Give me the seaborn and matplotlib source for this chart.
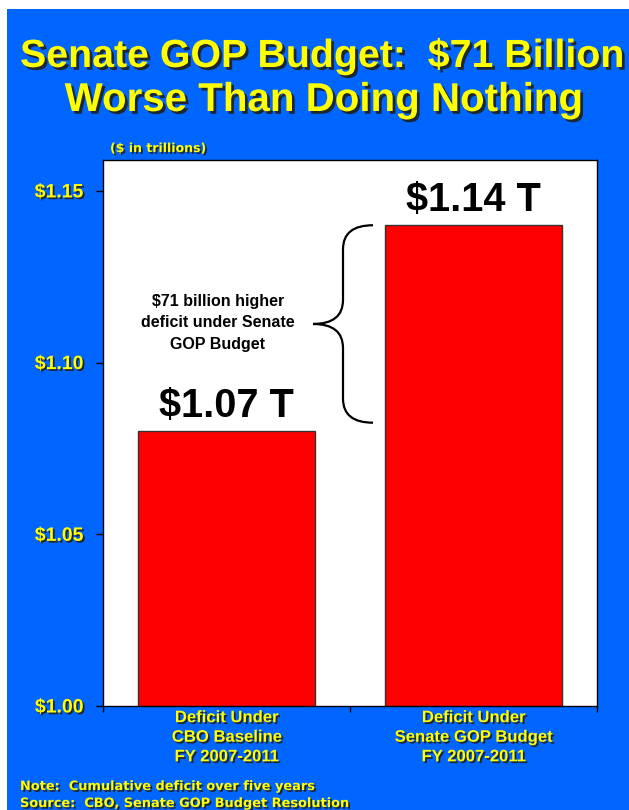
import matplotlib
matplotlib.use("Agg")
import matplotlib.pyplot as plt
import matplotlib.patheffects as pe
from matplotlib.patches import Rectangle, PathPatch
from matplotlib.path import Path
import matplotlib.transforms as mtransforms
import seaborn as sns
import pandas as pd

# ---- data ----
categories = ["Deficit Under\nCBO Baseline\nFY 2007-2011",
              "Deficit Under\nSenate GOP Budget\nFY 2007-2011"]
values = [1.08, 1.14]
value_labels = [r"\$1.07 T", r"\$1.14 T"]
yticks = [1.00, 1.05, 1.10, 1.15]
ytick_labels = [r"\$1.00", r"\$1.05", r"\$1.10", r"\$1.15"]
title_lines = ["Senate GOP Budget:  $71 Billion", "Worse Than Doing Nothing"]
unit_label = "($ in trillions)"
note_lines = ["Note:  Cumulative deficit over five years",
              "Source:  CBO, Senate GOP Budget Resolution"]
brace_text = "$71 billion higher\ndeficit under Senate\nGOP Budget"

BLUE = "#0066FF"
YEL = "#FFFF00"

sns.set_theme(style="white")
plt.rcParams["font.family"] = ["Liberation Sans", "DejaVu Sans"]

W, H = 629, 810
fig = plt.figure(figsize=(W / 100, H / 100), dpi=100, facecolor="white")
fig.add_artist(Rectangle((7 / W, 0), 1 - 7 / W, 1 - 9 / H, transform=fig.transFigure,
                         facecolor=BLUE, edgecolor="none", zorder=0))

ax = fig.add_axes([103 / W, 1 - 706 / H, (597 - 103) / W, (706 - 160) / H])
ax.set_facecolor("white")

df = pd.DataFrame({"cat": categories, "val": values})
sns.barplot(data=df, x="cat", y="val", color="#FF0000", saturation=1,
            edgecolor="#333333", linewidth=1, width=0.715, ax=ax)

ax.set_xlim(-0.5, 1.5)
ax.set_ylim(1.0, 1.159)
ax.set_xlabel("")
ax.set_ylabel("")

shadow = [pe.SimplePatchShadow(offset=(1.3, -1.3), shadow_rgbFace="#202020", alpha=0.9), pe.Normal()]

ax.set_yticks(yticks)
ax.set_yticklabels(ytick_labels)
ax.tick_params(axis="y", which="major", left=True, length=5, width=1, color="black",
               pad=9, labelsize=14, labelcolor=YEL)
for t in ax.get_yticklabels():
    t.set_fontweight("bold")
    t.set_path_effects(shadow)

ax.set_xticks([0, 1])
ax.set_xticklabels(categories)
ax.set_xticks([-0.5, 0.5, 1.5], minor=True)
ax.tick_params(axis="x", which="major", length=0, pad=3, labelsize=12, labelcolor=YEL)
ax.tick_params(axis="x", which="minor", bottom=True, length=4.5, width=1, color="black")
for t in ax.get_xticklabels():
    t.set_fontweight("bold")
    t.set_linespacing(1.38)
    t.set_path_effects(shadow)

for s in ax.spines.values():
    s.set_visible(True)
    s.set_color("black")
    s.set_linewidth(1)

# value labels
for i, (v, lab) in enumerate(zip(values, value_labels)):
    ax.annotate(lab, xy=(i, v), xytext=(0, 10), textcoords="offset points",
                ha="center", va="baseline", fontsize=28.5, fontweight="bold", color="black")

# brace
trans = mtransforms.blended_transform_factory(ax.transAxes, ax.transData)
y_top = values[1]
y_bot = values[0] + 0.0025
y_mid = (y_top + y_bot) / 2
r = 0.007
xs_tip = (373 - 103) / 494
xs_v = (343 - 103) / 494
xs_pt = (313 - 103) / 494
verts = [(xs_tip, y_top), (xs_v, y_top), (xs_v, y_top - r),
         (xs_v, y_mid + r),
         (xs_v, y_mid), (xs_pt, y_mid),
         (xs_v, y_mid), (xs_v, y_mid - r),
         (xs_v, y_bot + r),
         (xs_v, y_bot), (xs_tip, y_bot)]
codes = [Path.MOVETO, Path.CURVE3, Path.CURVE3,
         Path.LINETO,
         Path.CURVE3, Path.CURVE3,
         Path.CURVE3, Path.CURVE3,
         Path.LINETO,
         Path.CURVE3, Path.CURVE3]
ax.add_patch(PathPatch(Path(verts, codes), transform=trans, facecolor="none",
                       edgecolor="black", linewidth=1.6, clip_on=False))

ax.text((218 - 103) / 494, y_mid + 0.0003, brace_text, transform=trans, ha="center", va="center",
        multialignment="center", fontsize=11.5, fontweight="bold", color="black",
        linespacing=1.55, parse_math=False)

# title
tshadow = [pe.SimplePatchShadow(offset=(2, -2), shadow_rgbFace="#202020", alpha=0.9), pe.Normal()]
fig.text(321 / W, 1 - 67 / H, title_lines[0], ha="center", va="baseline", fontsize=28.3,
         fontweight="bold", color=YEL, parse_math=False, path_effects=tshadow)
fig.text(323.5 / W, 1 - 111 / H, title_lines[1], ha="center", va="baseline", fontsize=29,
         fontweight="bold", color=YEL, parse_math=False, path_effects=tshadow)

fig.text(110 / W, 1 - 152 / H, unit_label, ha="left", va="baseline", fontsize=9,
         fontweight="bold", color=YEL, family="DejaVu Sans", parse_math=False, path_effects=shadow)

fig.text(20 / W, 1 - 790 / H, note_lines[0], ha="left", va="baseline", fontsize=9.3,
         fontweight="bold", color=YEL, family="DejaVu Sans", parse_math=False, path_effects=shadow)
fig.text(20 / W, 1 - 807 / H, note_lines[1], ha="left", va="baseline", fontsize=9.3,
         fontweight="bold", color=YEL, family="DejaVu Sans", parse_math=False, path_effects=shadow)

fig.savefig("out.png", dpi=100, facecolor=fig.get_facecolor())
